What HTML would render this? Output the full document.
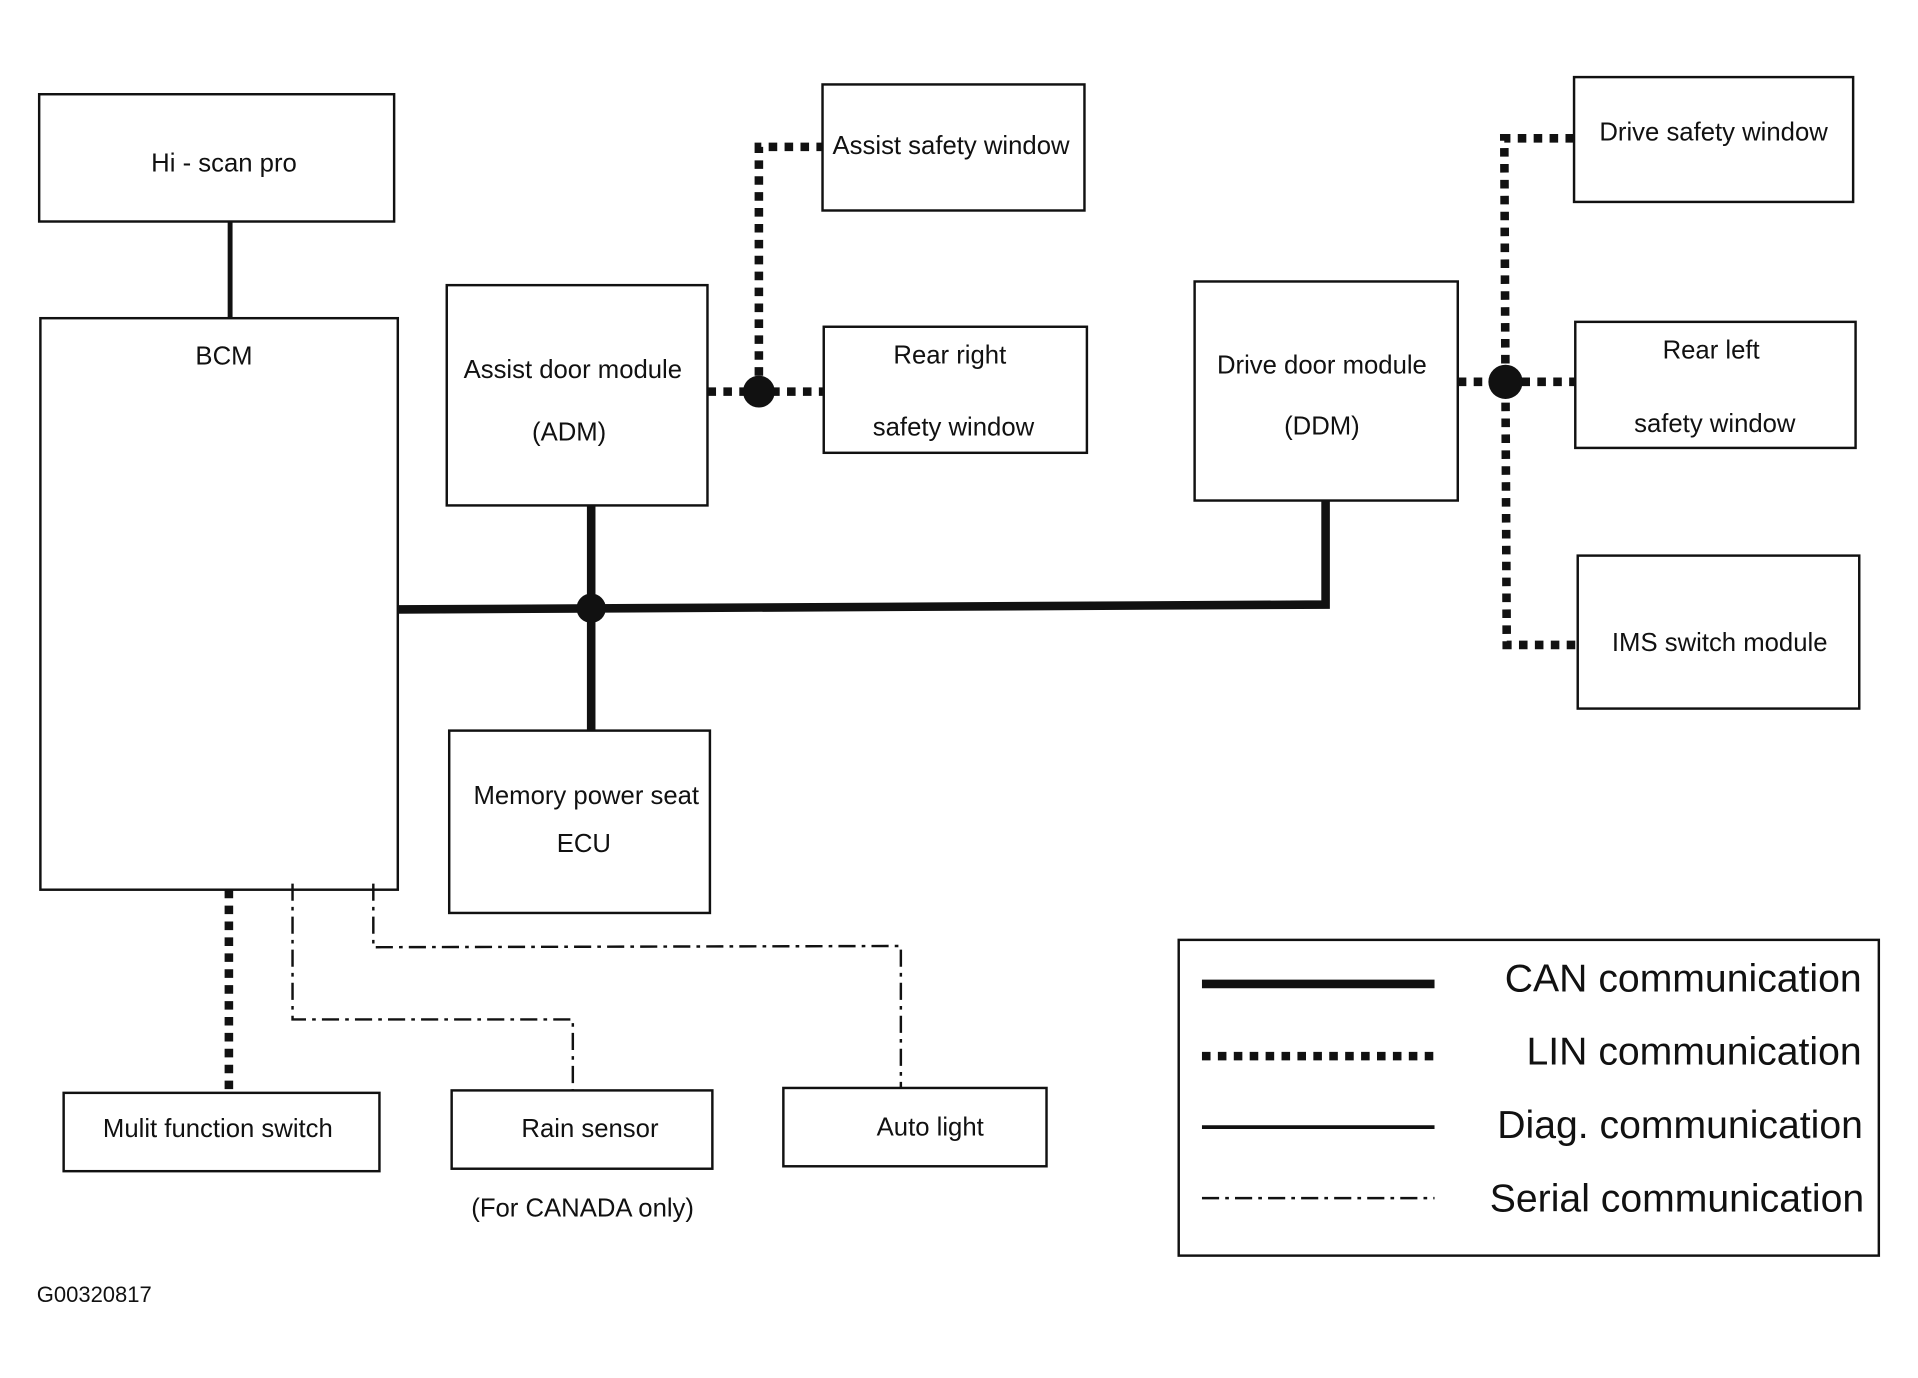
<!DOCTYPE html>
<html><head><meta charset="utf-8"><style>
html,body{margin:0;padding:0;background:#fff;}
svg{display:block;}
text{font-family:"Liberation Sans",Arial,sans-serif;fill:#111;}
</style></head><body>
<svg width="1918" height="1378" viewBox="0 0 1567 1126" preserveAspectRatio="none" xmlns="http://www.w3.org/2000/svg">
<g fill="none" stroke="#111" stroke-width="2">
<rect x="32" y="77" width="290" height="104"/>
<rect x="33" y="260" width="292" height="467"/>
<rect x="365" y="233" width="213" height="180"/>
<rect x="672" y="69" width="214" height="103"/>
<rect x="673" y="267" width="215" height="103"/>
<rect x="976" y="230" width="215" height="179"/>
<rect x="1286" y="63" width="228" height="102"/>
<rect x="1287" y="263" width="229" height="103"/>
<rect x="1289" y="454" width="230" height="125"/>
<rect x="367" y="597" width="213" height="149"/>
<rect x="52" y="893" width="258" height="64"/>
<rect x="369" y="891" width="213" height="64"/>
<rect x="640" y="889" width="215" height="64"/>
<rect x="963" y="768" width="572" height="258"/>
</g>
<line x1="188" y1="181" x2="188" y2="260" stroke="#111" stroke-width="4"/>
<g stroke="#111" stroke-width="7" fill="none">
<polyline points="325,498 1083,494 1083,409"/>
<line x1="483" y1="413" x2="483" y2="597"/>
</g>
<circle cx="483" cy="497" r="12" fill="#111"/>
<g stroke="#111" stroke-width="7" fill="none" stroke-dasharray="7,6">
<line x1="578" y1="320" x2="672" y2="320"/>
<polyline points="620,320 620,120 672,120"/>
<line x1="1191" y1="312" x2="1287" y2="312"/>
<polyline points="1286,113 1229,113 1231,527 1289,527"/>
<line x1="187" y1="727" x2="187" y2="893"/>
<line x1="982" y1="863" x2="1172" y2="863"/>
</g>
<circle cx="620" cy="320" r="13" fill="#111"/>
<circle cx="1230" cy="312" r="14" fill="#111"/>
<g stroke="#111" stroke-width="2" fill="none" stroke-dasharray="14,5,3,5">
<polyline points="239,722 239,833 468,833 468,891"/>
<polyline points="305,722 305,774 736,773 736,889"/>
<line x1="982" y1="979" x2="1172" y2="979"/>
</g>
<line x1="982" y1="804" x2="1172" y2="804" stroke="#111" stroke-width="7"/>
<line x1="982" y1="921" x2="1172" y2="921" stroke="#111" stroke-width="3"/>
<g font-size="21" text-anchor="middle">
<text x="183" y="140">Hi - scan pro</text>
<text x="183" y="298">BCM</text>
<text x="468" y="309">Assist door module</text>
<text x="465" y="360">(ADM)</text>
<text x="777" y="126">Assist safety window</text>
<text x="776" y="297">Rear right</text>
<text x="779" y="356">safety window</text>
<text x="1080" y="305">Drive door module</text>
<text x="1080" y="355">(DDM)</text>
<text x="1400" y="115">Drive safety window</text>
<text x="1398" y="293">Rear left</text>
<text x="1401" y="353">safety window</text>
<text x="1405" y="532">IMS switch module</text>
<text x="479" y="657">Memory power seat</text>
<text x="477" y="696">ECU</text>
<text x="178" y="929">Mulit function switch</text>
<text x="482" y="929">Rain sensor</text>
<text x="760" y="928">Auto light</text>
<text x="476" y="994">(For CANADA only)</text>
</g>
<g font-size="32" text-anchor="end">
<text x="1521" y="810">CAN communication</text>
<text x="1521" y="870">LIN communication</text>
<text x="1522" y="930">Diag. communication</text>
<text x="1523" y="990">Serial communication</text>
</g>
<text x="30" y="1064" font-size="18">G00320817</text>
</svg>
</body></html>
